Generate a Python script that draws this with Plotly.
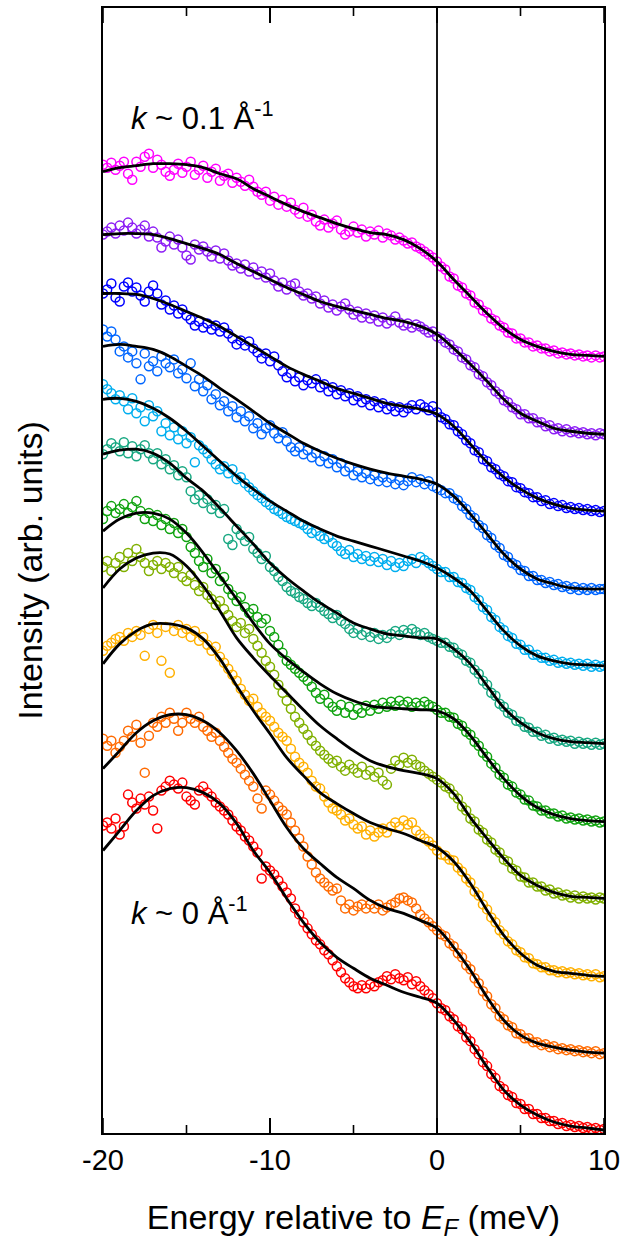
import numpy as np
import plotly.graph_objects as go

# Energy grids (meV relative to E_F)
energy_pts = np.linspace(-20, 10, 121)   # measured EDC points, 0.25 meV step
energy_fit = np.arange(-20, 11, 1)       # fitted curves, 1 meV step

# EDCs, stacked with vertical offsets (arb. units), from k ~ 0.1 1/A (top) to k ~ 0 (bottom)
magenta_pts = [970, 967, 972, 965, 969, 973, 961, 955, 973, 968, 978, 981, 967, 975, 970, 963, 959, 965, 971, 962,
               968, 973, 960, 965, 969, 957, 963, 966, 954, 959, 961, 952, 957, 953, 949, 955, 948, 943, 940, 943,
               934, 938, 930, 935, 928, 932, 925, 921, 927, 918, 920, 913, 909, 915, 907, 911, 914, 905, 900, 903,
               908, 902, 905, 898, 903, 900, 904, 897, 901, 899, 895, 897, 894, 891, 892, 888, 886, 883, 880, 877,
               873, 868, 865, 858, 856, 849, 847, 841, 839, 832, 830, 824, 822, 816, 814, 809, 807, 802, 801, 796,
               796, 792, 792, 788, 789, 786, 786, 783, 784, 781, 782, 780, 781, 779, 780, 778, 779, 777, 779, 777, 778]
magenta_fit = [963, 967, 969, 971, 971, 970, 967, 961, 956, 946, 938, 930, 923, 917, 911, 906, 902, 900, 895, 886,
               873, 855, 838, 821, 806, 795, 788, 783, 780, 779, 778]

purple_pts = [900, 903, 907, 901, 909, 904, 912, 907, 901, 905, 909, 898, 903, 897, 887, 893, 898, 890, 895, 887,
              879, 875, 890, 885, 888, 883, 878, 884, 876, 881, 874, 869, 871, 866, 870, 863, 867, 860, 863, 857,
              861, 854, 848, 852, 845, 849, 851, 843, 839, 841, 836, 838, 831, 834, 827, 830, 824, 828, 831, 825,
              820, 823, 817, 821, 816, 819, 813, 817, 811, 814, 818, 812, 809, 811, 807, 810, 808, 805, 802, 803,
              798, 796, 792, 790, 785, 783, 777, 775, 769, 767, 760, 758, 752, 749, 743, 740, 734, 732, 727, 725,
              720, 720, 716, 716, 712, 712, 708, 709, 705, 706, 703, 705, 702, 703, 701, 702, 700, 701, 699, 701, 700]
purple_fit = [900, 901, 901, 900, 896, 891, 886, 880, 871, 863, 855, 847, 840, 833, 828, 824, 820, 816, 813, 808,
              800, 786, 770, 753, 735, 721, 713, 706, 703, 701, 700]

blue_pts = [841, 845, 851, 837, 833, 848, 852, 843, 847, 839, 833, 843, 849, 841, 830, 834, 825, 829, 821, 825,
            819, 815, 809, 813, 807, 811, 805, 809, 803, 807, 801, 796, 790, 794, 789, 793, 786, 782, 776, 781,
            773, 778, 769, 763, 757, 761, 753, 757, 749, 754, 751, 755, 747, 750, 743, 747, 740, 744, 738, 741,
            734, 738, 732, 735, 729, 733, 727, 731, 725, 728, 723, 727, 722, 726, 729, 725, 730, 727, 724, 728,
            722, 717, 715, 710, 709, 703, 700, 694, 691, 684, 682, 675, 673, 667, 665, 660, 658, 653, 652, 647,
            646, 642, 641, 637, 637, 633, 634, 630, 631, 628, 629, 626, 627, 625, 626, 624, 625, 623, 624, 622, 623]
blue_fit = [841, 841, 840, 836, 830, 823, 816, 808, 798, 788, 778, 768, 760, 753, 746, 741, 736, 731, 728, 725,
            720, 708, 690, 672, 657, 645, 636, 630, 626, 624, 623]

azure_pts = [805, 798, 803, 795, 783, 788, 777, 783, 771, 755, 781, 768, 773, 763, 778, 771, 767, 775, 761, 765,
             756, 771, 748, 755, 743, 749, 735, 740, 729, 733, 723, 728, 717, 723, 713, 718, 706, 711, 700, 706,
             709, 701, 696, 702, 693, 687, 683, 687, 680, 684, 677, 681, 673, 678, 671, 675, 667, 671, 663, 667,
             659, 663, 657, 661, 655, 659, 653, 657, 652, 656, 650, 654, 649, 653, 657, 652, 655, 650, 653, 648,
             646, 644, 641, 641, 636, 634, 628, 625, 619, 616, 609, 606, 599, 596, 589, 586, 579, 577, 571, 569,
             564, 563, 558, 558, 554, 554, 551, 552, 549, 550, 547, 548, 545, 547, 544, 546, 544, 546, 544, 545, 545]
azure_fit = [788, 790, 788, 785, 778, 768, 758, 746, 735, 723, 711, 701, 691, 683, 676, 670, 665, 661, 658, 655,
             650, 638, 620, 600, 580, 565, 555, 550, 546, 545, 545]

sky_pts = [750, 745, 741, 735, 739, 733, 725, 736, 721, 727, 713, 729, 718, 723, 703, 711, 699, 707, 695, 703,
           691, 697, 672, 689, 685, 681, 675, 670, 665, 668, 661, 665, 655, 657, 651, 647, 643, 639, 636, 632,
           629, 625, 623, 620, 617, 615, 613, 611, 609, 605, 601, 603, 598, 595, 597, 591, 588, 583, 580, 584,
           577, 580, 575, 578, 573, 577, 572, 575, 569, 573, 567, 571, 568, 573, 575, 571, 577, 574, 571, 568,
           565, 562, 562, 557, 557, 552, 551, 546, 544, 537, 534, 527, 524, 517, 514, 507, 504, 498, 496, 490,
           489, 484, 484, 479, 479, 476, 476, 473, 474, 471, 472, 470, 471, 469, 470, 468, 470, 467, 469, 467, 468]
sky_fit = [735, 736, 733, 726, 716, 703, 688, 673, 658, 645, 633, 623, 613, 605, 598, 593, 588, 583, 578, 573,
           566, 556, 543, 523, 503, 488, 478, 473, 470, 469, 468]

teal_pts = [680, 685, 691, 687, 683, 692, 681, 688, 678, 685, 689, 681, 675, 681, 670, 675, 665, 669, 659, 663,
            657, 643, 635, 639, 631, 635, 625, 629, 621, 625, 595, 589, 605, 599, 593, 597, 585, 581, 575, 578,
            567, 563, 557, 553, 547, 543, 541, 537, 535, 531, 528, 531, 527, 523, 520, 516, 519, 513, 510, 505,
            501, 505, 499, 502, 497, 501, 495, 499, 496, 500, 503, 499, 504, 501, 505, 502, 499, 501, 497, 495,
            493, 491, 491, 487, 486, 481, 479, 473, 471, 464, 460, 453, 449, 441, 438, 430, 427, 421, 419, 413,
            412, 407, 406, 402, 402, 398, 399, 395, 396, 393, 394, 392, 393, 390, 392, 390, 391, 389, 391, 389, 390]
teal_fit = [680, 684, 685, 681, 671, 656, 643, 626, 608, 590, 571, 556, 543, 531, 521, 511, 505, 500, 498, 496,
            495, 485, 470, 448, 426, 411, 401, 395, 392, 391, 390]

green_pts = [615, 623, 628, 621, 625, 630, 621, 627, 633, 623, 615, 621, 613, 619, 609, 615, 605, 611, 601, 605,
             597, 587, 581, 573, 567, 575, 561, 565, 553, 557, 545, 539, 533, 537, 527, 521, 525, 517, 511, 515,
             503, 497, 489, 481, 473, 469, 465, 461, 457, 453, 447, 441, 435, 439, 431, 427, 423, 429, 421, 427,
             419, 425, 421, 428, 423, 429, 425, 431, 427, 432, 428, 433, 429, 432, 427, 431, 428, 432, 429, 427,
             424, 421, 421, 417, 416, 410, 408, 402, 399, 392, 388, 381, 377, 370, 366, 359, 356, 349, 347, 341,
             339, 334, 333, 328, 327, 323, 323, 320, 320, 317, 318, 315, 316, 314, 315, 313, 314, 312, 313, 311, 312]
green_fit = [603, 615, 621, 621, 615, 601, 581, 558, 535, 511, 490, 475, 462, 450, 440, 433, 428, 426, 425, 424,
             423, 415, 398, 376, 355, 338, 326, 319, 315, 313, 312]

lime_pts = [567, 573, 563, 571, 577, 567, 581, 573, 585, 577, 571, 563, 569, 573, 565, 571, 567, 561, 567, 557,
            553, 559, 549, 543, 547, 539, 535, 529, 533, 525, 519, 513, 507, 511, 501, 505, 495, 488, 481, 473,
            467, 459, 449, 441, 433, 425, 417, 411, 405, 399, 393, 388, 383, 379, 375, 371, 373, 367, 363, 369,
            365, 361, 367, 359, 363, 357, 361, 353, 349, 365, 373, 369, 376, 371, 374, 369, 367, 363, 360, 357,
            354, 351, 347, 345, 339, 335, 327, 323, 315, 312, 304, 301, 294, 291, 284, 281, 274, 272, 265, 263,
            257, 256, 251, 251, 247, 247, 243, 244, 240, 241, 238, 239, 236, 238, 235, 237, 235, 236, 234, 236, 235]
lime_fit = [546, 565, 576, 581, 580, 568, 548, 523, 496, 476, 458, 441, 424, 408, 395, 383, 373, 367, 363, 360,
            355, 340, 316, 295, 275, 258, 248, 241, 237, 236, 235]

amber_pts = [483, 488, 491, 495, 497, 493, 501, 497, 503, 499, 478, 505, 509, 501, 473, 507, 461, 503, 509, 501,
             505, 497, 503, 493, 497, 489, 483, 487, 477, 471, 465, 459, 453, 445, 439, 433, 435, 427, 421, 417,
             413, 407, 401, 397, 393, 385, 377, 371, 367, 361, 353, 347, 345, 337, 331, 325, 323, 319, 313, 315,
             309, 305, 307, 299, 303, 297, 301, 305, 301, 307, 311, 307, 313, 309, 311, 303, 299, 295, 292, 288,
             283, 279, 278, 274, 273, 266, 262, 255, 251, 242, 238, 229, 224, 216, 211, 203, 199, 192, 189, 183,
             181, 176, 175, 170, 169, 166, 166, 163, 163, 161, 162, 160, 161, 159, 160, 158, 159, 157, 159, 156, 157]
amber_fit = [470, 490, 503, 510, 510, 506, 495, 475, 448, 423, 400, 376, 358, 341, 330, 320, 311, 305, 300, 293,
             286, 272, 250, 223, 198, 180, 168, 162, 160, 158, 157]

orange_pts = [395, 388, 393, 381, 387, 393, 403, 397, 409, 391, 361, 398, 411, 407, 417, 411, 421, 415, 403, 411,
              421, 415, 411, 417, 407, 403, 397, 401, 393, 387, 381, 375, 371, 365, 359, 353, 347, 335, 325, 343,
              339, 333, 327, 323, 319, 311, 303, 295, 287, 277, 269, 261, 255, 251, 247, 243, 245, 233, 225, 229,
              223, 227, 229, 225, 229, 225, 229, 223, 226, 229, 231, 235, 236, 233, 231, 225, 219, 215, 211, 207,
              203, 199, 197, 190, 187, 180, 176, 168, 164, 155, 150, 142, 137, 129, 125, 117, 114, 108, 106, 100,
              99, 95, 95, 91, 91, 88, 89, 86, 87, 84, 85, 83, 84, 82, 83, 81, 82, 80, 82, 79, 80]
orange_fit = [365, 383, 401, 413, 419, 419, 413, 401, 383, 360, 333, 306, 285, 270, 256, 245, 233, 225, 220, 213,
              205, 186, 163, 136, 113, 98, 90, 86, 83, 81, 80]

red_pts = [308, 311, 305, 315, 299, 307, 339, 331, 325, 335, 329, 337, 323, 305, 343, 347, 353, 349, 345, 351,
           337, 333, 329, 343, 347, 341, 337, 331, 327, 323, 319, 313, 307, 303, 297, 293, 287, 281, 255, 267,
           263, 259, 253, 247, 241, 235, 225, 219, 211, 205, 199, 193, 189, 183, 179, 173, 167, 161, 155, 151,
           147, 145, 148, 145, 149, 147, 151, 153, 157, 154, 159, 155, 153, 156, 149, 152, 147, 143, 139, 135,
           130, 125, 123, 117, 114, 107, 104, 96, 92, 84, 79, 71, 67, 59, 55, 47, 44, 38, 36, 30,
           29, 24, 24, 19, 19, 15, 15, 12, 12, 9, 10, 7, 8, 6, 7, 5, 6, 4, 5, 3, 4]
red_fit = [283, 303, 323, 338, 345, 346, 341, 330, 310, 283, 261, 235, 211, 191, 176, 165, 155, 148, 141, 136,
           130, 113, 91, 66, 43, 28, 18, 11, 7, 5, 3]

# Axis ticks
major_ticks = [-20, -10, 0, 10]
major_labels = ["-20", "-10", "0", "10"]
minor_ticks = [-15, -5, 5]

curves = [
    ("#FF00FF", magenta_pts, magenta_fit),
    ("#8C1CF5", purple_pts, purple_fit),
    ("#0000FF", blue_pts, blue_fit),
    ("#0066FF", azure_pts, azure_fit),
    ("#00AEEF", sky_pts, sky_fit),
    ("#18A882", teal_pts, teal_fit),
    ("#10A310", green_pts, green_fit),
    ("#80B000", lime_pts, lime_fit),
    ("#FFB000", amber_pts, amber_fit),
    ("#FF6A00", orange_pts, orange_fit),
    ("#FF0000", red_pts, red_fit),
]

FONT = "Liberation Sans, Arial, Helvetica, sans-serif"

fig = go.Figure()

for color, pts, fit in curves:
    assert len(pts) == len(energy_pts) and len(fit) == len(energy_fit)
    fig.add_trace(go.Scatter(
        x=energy_pts, y=pts, mode="markers",
        marker=dict(symbol="circle-open", size=9, color=color, line=dict(width=1.5, color=color)),
        showlegend=False, hoverinfo="skip",
    ))

for color, pts, fit in curves:
    fig.add_trace(go.Scatter(
        x=energy_fit, y=fit, mode="lines",
        line=dict(color="black", width=2.8, shape="spline", smoothing=1.0),
        showlegend=False, hoverinfo="skip",
    ))

# Fermi level
fig.add_shape(type="line", xref="x", yref="paper", x0=0, x1=0, y0=0, y1=1,
              line=dict(color="black", width=1.8), layer="above")

# Inward tick marks on the bottom and top frame edges
for ticks, length in ((major_ticks, 15), (minor_ticks, 8)):
    for t in ticks:
        for edge, sign in ((0, 1), (1, -1)):
            fig.add_shape(type="line", xref="x", yref="paper", ysizemode="pixel", yanchor=edge,
                          x0=t, x1=t, y0=0, y1=sign * length,
                          line=dict(color="black", width=1.6), layer="above")

fig.add_annotation(x=-18.45, y=1019, xref="x", yref="y", xanchor="left", yanchor="middle",
                   text="<i>k</i> ~ 0.1 Å<sup>-1</sup>", showarrow=False,
                   font=dict(family=FONT, size=31, color="black"))
fig.add_annotation(x=-18.45, y=222, xref="x", yref="y", xanchor="left", yanchor="middle",
                   text="<i>k</i> ~ 0 Å<sup>-1</sup>", showarrow=False,
                   font=dict(family=FONT, size=31, color="black"))

fig.update_xaxes(
    range=[-20, 10], tickmode="array", tickvals=major_ticks, ticktext=major_labels,
    ticks="inside", ticklen=15, tickwidth=1.6, tickcolor="#000000",
    showline=True, linecolor="black", linewidth=1.8, mirror="ticks",
    showgrid=False, zeroline=False,
    tickfont=dict(family=FONT, size=29, color="black"),
    title=dict(text="Energy relative to <i>E</i><sub><i>F</i></sub> (meV)",
               font=dict(family=FONT, size=34, color="black"), standoff=30),
)
fig.update_yaxes(
    range=[0, 1127], showticklabels=False, ticks="",
    showline=True, linecolor="black", linewidth=1.8, mirror=True,
    showgrid=False, zeroline=False,
    title=dict(text="Intensity (arb. units)", font=dict(family=FONT, size=34, color="black"), standoff=48),
)

fig.update_layout(
    width=626, height=1245,
    margin=dict(l=103, r=21, t=6, b=112),
    paper_bgcolor="white", plot_bgcolor="white",
)

fig.write_html("out.html")
